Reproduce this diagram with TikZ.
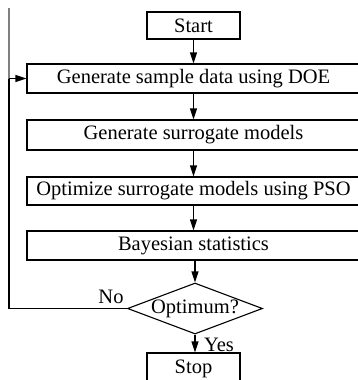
\documentclass[tikz,border=0pt]{standalone}
\usepackage{fontspec}
\setmainfont{Liberation Serif}
\usetikzlibrary{shapes.geometric,arrows.meta}
\begin{document}
\begin{tikzpicture}[x=1pt,y=-1pt,
  font=\fontsize{20.5}{22}\selectfont,
  stepbox/.style={draw, line width=1.1pt, inner sep=0pt, anchor=center},
  arr/.style={line width=1.1pt, -{Triangle[length=11pt,width=7pt]}},
  lbl/.style={inner sep=0pt}]
\useasboundingbox (0,0) rectangle (358,380);
\node[stepbox, minimum width=93pt, minimum height=27pt] (start) at (193.5,25.5) {Start};
\node[stepbox, minimum width=333pt, minimum height=29pt] (b1) at (193.5,78.5) {Generate sample data using DOE};
\node[stepbox, minimum width=333pt, minimum height=30pt] (b2) at (193.5,135) {Generate surrogate models};
\node[stepbox, minimum width=333pt, minimum height=28pt] (b3) at (193.5,191) {Optimize surrogate models using PSO};
\node[stepbox, minimum width=333pt, minimum height=29pt] (b4) at (193.5,245.5) {Bayesian statistics};
\node[draw, line width=1.1pt, shape=diamond, minimum width=135pt, minimum height=51pt, inner sep=0pt] (opt) at (195,308.5) {};
\node[lbl] (opttext) at (opt.center) {Optimum?};
\node[stepbox, minimum width=93pt, minimum height=32pt] (stop) at (193.5,369) {Stop};
\coordinate (top) at (9,8);
\coordinate (corner) at (9,308.5);
\coordinate (join) at (9,78.5);
\draw[arr] (start) -- (b1);
\draw[arr] (b1) -- (b2);
\draw[arr] (b2) -- (b3);
\draw[arr] (b3) -- (b4.north -| start);
\draw[arr] (b4.south -| opt) -- (opt.north);
\draw[arr] (opt.south) -- (stop.north -| opt);
\draw[line width=1.1pt, gray] (top) -- (join);
\draw[line width=1.1pt] (opt.west) -- (corner) -- (join);
\draw[arr] (join) -- (b1.west);
\node[lbl] (no) at (111,297) {No};
\node[lbl] (yes) at (219,345) {Yes};
\end{tikzpicture}
\end{document}
